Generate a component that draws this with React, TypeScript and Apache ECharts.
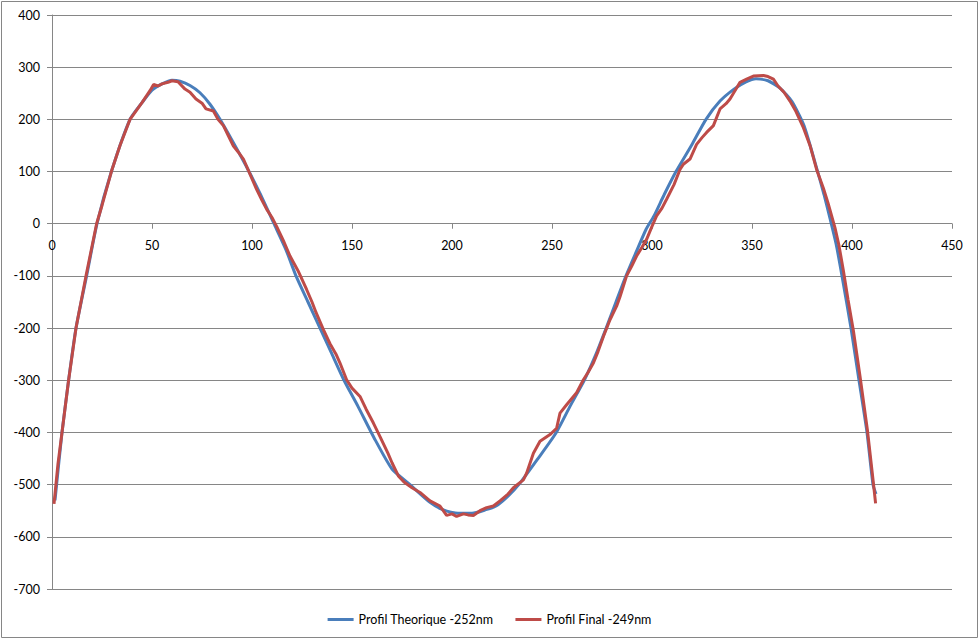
import React, { useEffect, useRef } from "react";
import * as echarts from "echarts";

const seriesNames = ["Profil Theorique -252nm", "Profil Final -249nm"];
const seriesColors = ["#4A7EBB", "#BE4B48"];

const theoX = [1.5, 5, 8.3, 12, 17.3, 22.5, 29.7, 39, 45, 50, 55, 60, 64, 69, 74, 79, 84, 90, 97, 104, 111, 117, 122, 128, 134, 140, 146, 153, 161, 170, 179, 189, 196, 203, 210, 217, 222, 228, 234, 243, 252, 259, 266, 272, 277, 282, 287, 292, 297, 301, 306, 312, 320, 327, 334, 341, 347, 352, 358, 364, 370, 376, 382, 386, 389, 392, 395, 399.5, 403.5, 407.5, 410.5, 412];
const theoY = [-530, -400, -300, -200, -100, 0, 100, 200, 232, 256, 268, 275, 273, 265, 251, 229, 200, 160, 111, 58, 0, -50, -100, -150, -200, -250, -300, -350, -410, -470, -500, -534, -549, -555, -555, -548, -541, -522, -497, -450, -401, -350, -301, -250, -201, -150, -100, -55, -11, 15, 55, 100, 152, 200, 235, 258, 272, 278, 274, 260, 234, 188, 111, 56, 10, -38, -100, -200, -300, -400, -500, -518];

const finalX = [1, 3, 5, 8.3, 12, 17, 22.3, 25, 29.7, 34, 39, 45, 49, 50.8, 53, 55, 58, 60, 63, 66.5, 69, 72, 75, 77, 80.7, 83, 85.7, 88, 90.7, 93, 95.7, 99, 102.3, 105, 107.3, 110, 112.3, 116, 119, 123, 127.3, 130, 132, 135.7, 139, 142, 144, 147.3, 150, 154, 157, 160.7, 164, 168, 170, 173.3, 176, 180, 184, 189, 194, 197.3, 200, 202.3, 205.7, 208, 210.7, 214, 217.3, 220.7, 224, 228, 230.7, 235.7, 237.3, 240.7, 244, 249, 252.3, 254, 257.3, 262.3, 265.7, 268, 270.7, 273, 275.7, 279, 282.3, 284, 287.3, 290, 292.3, 295, 297.3, 300, 302.3, 305, 307.3, 311, 314, 315.7, 319, 322.3, 325, 327.3, 330.7, 334, 337, 339, 342, 344, 347.3, 350.7, 355.7, 358, 360.7, 363, 366, 369, 372, 375.7, 379, 382.3, 385.7, 388, 391.5, 393.5, 395.7, 398, 400.7, 404, 407.7, 410.7, 411.8];
const finalY = [-537, -460, -400, -300, -200, -100, 0, 35, 100, 150, 200, 232, 255, 267, 264, 268, 271, 274, 272, 258, 252, 239, 231, 220, 216, 200, 188, 170, 149, 138, 124, 95, 66, 45, 28, 12, -5, -35, -62, -90, -126, -150, -170, -203, -230, -250, -267, -299, -315, -331, -355, -382, -408, -440, -458, -484, -495, -506, -515, -531, -541, -559, -556, -561, -556, -558, -559, -550, -544, -541, -531, -518, -506, -491, -478, -440, -417, -404, -392, -363, -347, -324, -299, -285, -267, -245, -216, -184, -158, -140, -100, -80, -62, -45, -30, -5, 15, 30, 47, 75, 104, 114, 124, 152, 165, 175, 188, 220, 230, 239, 258, 271, 277, 283, 284, 282, 277, 264, 252, 235, 215, 184, 150, 104, 68, 40, -8, -42, -90, -145, -205, -292, -395, -497, -536];

const xMin = 0;
const xMax = 450;
const xInterval = 50;
const yMin = -700;
const yMax = 400;
const yInterval = 100;

const gridTop = 15;
const gridBottom = 51;
const chartH = 640;

const pair = (xs: number[], ys: number[]) => xs.map((x, i) => [x, ys[i]]);

export default function App() {
  const ref = useRef<HTMLDivElement>(null);
  useEffect(() => {
    if (!ref.current) return;
    const chart = echarts.init(ref.current, undefined, { renderer: "svg" });
    const font = "Lato, 'Liberation Sans', sans-serif";
    const plotH = chartH - gridTop - gridBottom;
    const zeroFromBottom = (plotH * (0 - yMin)) / (yMax - yMin);
    chart.setOption({
      animation: false,
      backgroundColor: "#ffffff",
      textStyle: { fontFamily: font },
      graphic: [
        {
          type: "rect",
          shape: { x: 1.5, y: 1.5, width: 976, height: 636 },
          style: { fill: "none", stroke: "#868686", lineWidth: 1 },
          silent: true,
        },
      ],
      grid: { left: 52, right: 27, top: gridTop, bottom: gridBottom, containLabel: false, outerBoundsMode: "none" },
      legend: {
        bottom: 9,
        left: "center",
        icon: "rect",
        itemWidth: 26,
        itemHeight: 3,
        itemGap: 22,
        textStyle: { fontFamily: font, fontSize: 12.5, color: "#000" },
        data: seriesNames,
      },
      xAxis: {
        type: "value",
        min: xMin,
        max: xMax,
        interval: xInterval,
        position: "bottom",
        offset: -zeroFromBottom,
        axisLine: { show: true, onZero: false, lineStyle: { color: "#868686", width: 1 } },
        axisTick: { show: true, inside: false, length: 5, lineStyle: { color: "#868686" } },
        axisLabel: { color: "#000", fontSize: 12.5, margin: 15, fontFamily: font },
        splitLine: { show: false },
      },
      yAxis: {
        type: "value",
        min: yMin,
        max: yMax,
        interval: yInterval,
        axisLine: { show: true, lineStyle: { color: "#868686", width: 1 } },
        axisTick: { show: true, inside: false, length: 5, lineStyle: { color: "#868686" } },
        axisLabel: { color: "#000", fontSize: 12.5, margin: 12, fontFamily: font },
        splitLine: { show: true, lineStyle: { color: "#868686", width: 1 } },
      },
      series: [
        {
          name: seriesNames[0],
          type: "line",
          data: pair(theoX, theoY),
          showSymbol: false,
          symbol: "none",
          smooth: 0.2,
          lineStyle: { color: seriesColors[0], width: 3 },
          itemStyle: { color: seriesColors[0] },
          z: 2,
        },
        {
          name: seriesNames[1],
          type: "line",
          data: pair(finalX, finalY),
          showSymbol: false,
          symbol: "none",
          lineStyle: { color: seriesColors[1], width: 3 },
          itemStyle: { color: seriesColors[1] },
          z: 3,
        },
      ],
    });
    return () => chart.dispose();
  }, []);
  return (
    <div
      ref={ref}
      style={{ position: "fixed", left: 0, top: 0, width: 979, height: 640 }}
    />
  );
}
